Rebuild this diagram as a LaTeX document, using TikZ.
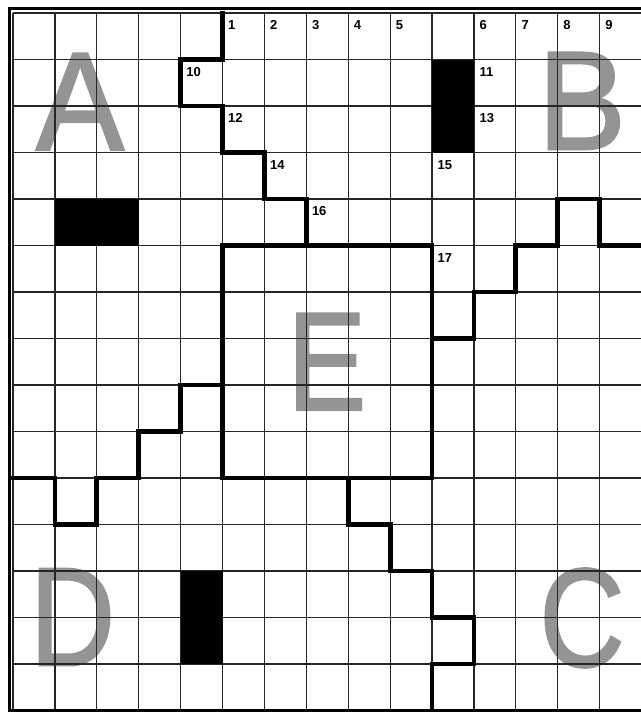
\documentclass[tikz,border=0pt]{standalone}
\usepackage{fontspec}
\setmainfont{Liberation Sans}
\newfontfamily\mzZoneFont[FakeBold=1.8]{Liberation Sans}
\newcommand{\mzNum}{\fontsize{13}{13}\selectfont\bfseries}
\newcommand{\mzBig}{\mzZoneFont\fontsize{140}{140}\selectfont}
\tikzset{
  %% thin ruling of the cells and the heavy frame round the sheet
  mzgrid/.style={draw=black!85, line width=1.2pt},
  mzframe/.style={draw=black, line width=3pt},
  %% the walls that split the sheet into the zones A--E
  mzwall/.style={draw=black, line width=4.8pt, line join=miter, line cap=rect},
  mzblock/.style={fill=black},
  %% zone letters sit under the ruling, in a flat, slightly narrow grey
  mzzone/.style={font=\mzBig, text=black!42, inner sep=0pt, xscale=0.84},
  mznum/.style={font=\mzNum, inner sep=0pt, anchor=north west,
    xshift=5.5pt, yshift=-7.5pt},
}

\begin{document}
\begin{tikzpicture}[x=41.9pt, y=-46.5pt]

\useasboundingbox (-0.3103,-0.2796) rectangle (14.964,15.032);

%% --- zone letters --------------------------------------------------
\node[mzzone, xscale=1.12] (zoneA) at (1.60,1.91)  {A};
\node[mzzone, xscale=1.12] (zoneB) at (13.58,1.89) {B};
\node[mzzone] (zoneC) at (13.58,13.01) {C};
\node[mzzone] (zoneD) at (1.42,12.99) {D};
\node[mzzone] (zoneE) at (7.49,7.50)  {E};

%% --- ruling and frame ----------------------------------------------
\foreach \i in {0,...,15} {
  \draw[mzgrid] (\i,0) -- (\i,15);
  \draw[mzgrid] (0,\i) -- (15,\i);
}
\draw[mzframe] (-0.0835,-0.097) rectangle (15.3,15.0);

%% --- blocked cells (solid, over the ruling) ------------------------
\fill[mzblock] (1,4) rectangle (3,5);
\fill[mzblock] (10,1) rectangle (11,3);
\fill[mzblock] (4,12) rectangle (5,14);

%% --- walls ---------------------------------------------------------
\draw[mzwall] (5,0) -- (5,1) -- (4,1) -- (4,2) -- (5,2) -- (5,3)
  -- (6,3) -- (6,4) -- (7,4) -- (7,5);
\draw[mzwall] (5,5) rectangle (10,10);
\draw[mzwall] (10,7) -- (11,7) -- (11,6) -- (12,6) -- (12,5) -- (13,5)
  -- (13,4) -- (14,4) -- (14,5) -- (15,5);
\draw[mzwall] (5,8) -- (4,8) -- (4,9) -- (3,9) -- (3,10) -- (2,10)
  -- (2,11) -- (1,11) -- (1,10) -- (0,10);
\draw[mzwall] (8,10) -- (8,11) -- (9,11) -- (9,12) -- (10,12) -- (10,13)
  -- (11,13) -- (11,14) -- (10,14) -- (10,15);

%% --- cell numbers --------------------------------------------------
\foreach \lbl/\c/\r in {1/5/0, 2/6/0, 3/7/0, 4/8/0, 5/9/0, 6/11/0,
    7/12/0, 8/13/0, 9/14/0, 10/4/1, 11/11/1, 12/5/2, 13/11/2,
    14/6/3, 15/10/3, 16/7/4, 17/10/5}
  \node[mznum] (num\lbl) at (\c,\r) {\lbl};

\end{tikzpicture}
\end{document}
